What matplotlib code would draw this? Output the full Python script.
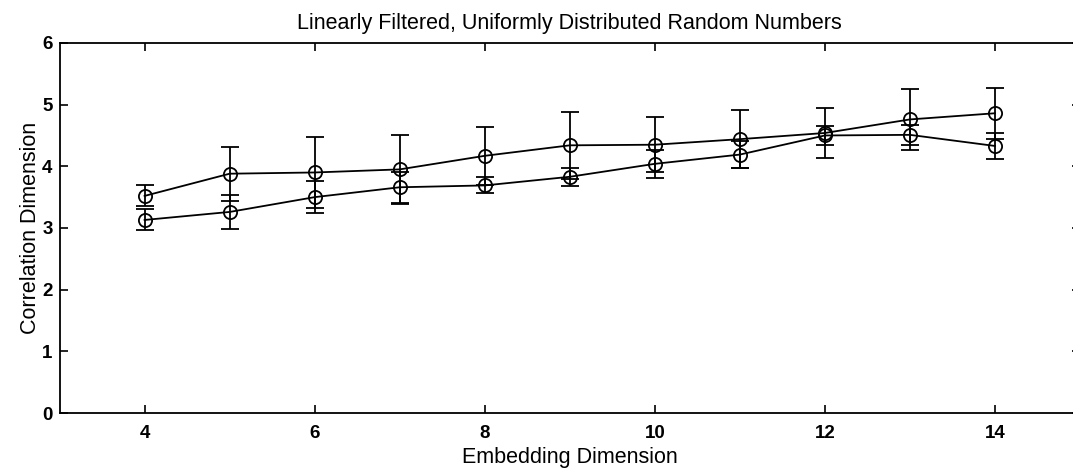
import numpy as np
import matplotlib
matplotlib.use("Agg")
import matplotlib.pyplot as plt

plt.rcParams['font.family'] = ['Liberation Sans', 'DejaVu Sans']

# embedding dimensions
dims = [4, 5, 6, 7, 8, 9, 10, 11, 12, 13, 14]

# series one (upper at the start)
corr_a = [3.52, 3.88, 3.90, 3.95, 4.17, 4.34, 4.35, 4.44, 4.54, 4.76, 4.86]
err_a = [0.17, 0.44, 0.58, 0.56, 0.47, 0.54, 0.45, 0.47, 0.41, 0.49, 0.41]

# series two (lower at the start)
corr_b = [3.13, 3.26, 3.50, 3.66, 3.69, 3.83, 4.04, 4.19, 4.50, 4.51, 4.33]
err_b = [0.17, 0.27, 0.26, 0.25, 0.13, 0.15, 0.23, 0.22, 0.16, 0.16, 0.21]

fig = plt.figure(figsize=(10.73, 4.72), dpi=100)
ax = fig.add_axes([0.0555, 0.125, 0.951, 0.784])

for y, e in [(corr_a, err_a), (corr_b, err_b)]:
    ax.errorbar(dims, y, yerr=e, color='black', lw=1.3, elinewidth=1.3,
                capsize=6.5, capthick=1.3, marker='o', ms=9.5,
                mfc='none', mec='black', mew=1.3)

ax.set_xlim(3, 15)
ax.set_ylim(0, 6)
ax.set_xticks([4, 6, 8, 10, 12, 14])
ax.set_yticks([0, 1, 2, 3, 4, 5, 6])
ax.tick_params(direction='in', top=True, right=True, length=6, width=1.2,
               labelsize=13.5)
ax.tick_params(axis='x', pad=9)
ax.tick_params(axis='y', pad=5)
for lab in ax.get_xticklabels() + ax.get_yticklabels():
    lab.set_fontweight('bold')
for s in ax.spines.values():
    s.set_linewidth(1.3)

ax.set_title('Linearly Filtered, Uniformly Distributed Random Numbers',
             fontsize=15.5, pad=10)
ax.set_xlabel('Embedding Dimension', fontsize=15.5, labelpad=3)
ax.set_ylabel('Correlation Dimension', fontsize=15.5, labelpad=1)

fig.savefig('out.png', dpi=100)
